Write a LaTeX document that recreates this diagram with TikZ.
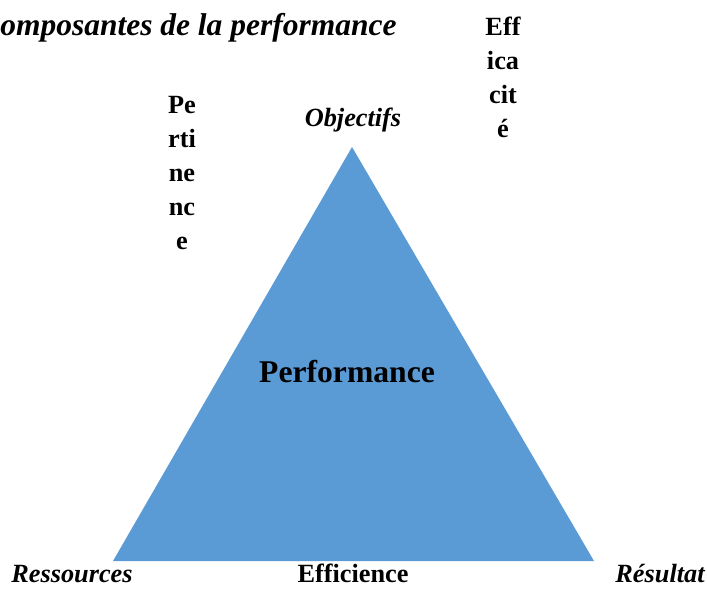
\documentclass[tikz,border=0pt]{standalone}
\usepackage{fontspec}
\setmainfont{Liberation Serif}
\usetikzlibrary{positioning}
\definecolor{perfblue}{RGB}{91,155,213}
\tikzset{
  lbl/.style={font=\fontsize{18.7}{24.2}\selectfont\bfseries, inner sep=0pt},
  ilbl/.style={lbl, font=\fontsize{18.7}{24.2}\selectfont\bfseries\itshape},
  stack/.style={lbl, align=center}
}
\begin{document}
\begin{tikzpicture}[scale=1]
\useasboundingbox (0,0) rectangle (17.675,14.725);
% le triangle
\coordinate (O) at (8.8,11.05);
\coordinate (R) at (2.825,0.7);
\coordinate (S) at (14.85,0.7);
\fill[perfblue] (R)--(O)--(S)--cycle;

\node[anchor=base west, inner sep=0pt, font=\fontsize{22.4}{26}\selectfont\bfseries\itshape] (titre) at (0,13.825){omposantes de la performance};

\node[ilbl] (obj) at (8.825,11.725){Objectifs};
\node[ilbl] (res) at (1.8,0.38){Ressources};
\node[lbl] (eff) at (8.825,0.38){Efficience};
\node[ilbl] (resu) at (16.5,0.38){Résultat};
\node[lbl, font=\fontsize{22.5}{27}\selectfont\bfseries] (perf) at (8.675,5.425){Performance};

\node[stack] (pert) at (4.55,10.4){Pe\\rti\\ne\\nc\\e};
\node[stack] (effi) at (12.575,12.8){Eff\\ica\\cit\\é};
\end{tikzpicture}
\end{document}
